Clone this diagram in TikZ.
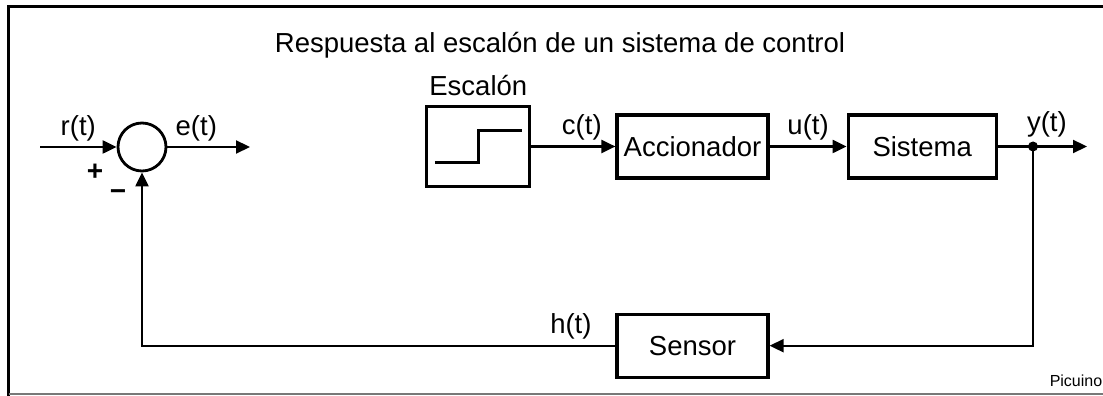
\documentclass[tikz,border=0pt]{standalone}
\usepackage{fontspec}
\setmainfont{Liberation Sans}
\usepackage{tikz}
\usetikzlibrary{arrows.meta, positioning, calc}
\definecolor{framegray}{RGB}{120,120,120}
\newcommand{\sigfont}{\fontsize{27.5}{31}\selectfont}

\begin{document}
\begin{tikzpicture}[
  x=1pt, y=1pt,
  node distance=80pt and 80pt,
  block/.style={draw, line width=3.2pt, minimum width=151pt, minimum height=63pt,
                inner sep=0pt, font=\sigfont},
  sumnode/.style={draw, circle, line width=2.8pt, minimum size=48pt, inner sep=0pt},
  arrow/.style={-{Triangle[length=14pt,width=13pt]}, line width=2.2pt},
  wire/.style={line width=2.2pt},
  sig/.style={font=\sigfont, inner sep=2pt},
]
\useasboundingbox (0,0) rectangle (1103,396);

%% Frame
\draw[line width=3.2pt] (1103,389.5) -- (8.5,389.5) -- (8.5,0);
\draw[framegray, line width=1.2pt] (8.5,2) -- (1103,2);
\node[font=\fontsize{27.5}{31}\selectfont] (title) at (560,351) {Respuesta al escal\'on de un sistema de control};

%% Blocks
\node[block] (acc) at (692.5,249.5) {Accionador};
\node[block, minimum width=148pt, right=77pt of acc] (sis) {Sistema};
\node[block, minimum width=103pt, minimum height=80pt, left=84pt of acc] (esc) {};
\node[sig, above=7pt of esc] (esclbl) {Escal\'on};
\node[block, below=133pt of acc] (sen) {Sensor};

%% Step inside Escalon
\draw[wire, line width=2.8pt] ($(esc.center)+(-43.5,-16)$) -- ++(44,0) -- ++(0,32) -- ++(43,0);

%% Comparator
\node[sumnode] (sum) at (142,249) {};
\coordinate (rin) at (40,249);
\coordinate (eout) at (250,249);
\draw[arrow] (rin) -- node[sig, above=3pt]{r(t)} (sum.west);
\draw[arrow] (sum.east) -- node[sig, above=3pt, pos=0.35]{e(t)} (eout);
\node[font=\fontsize{28}{31}\selectfont\bfseries] (plus) at ($(sum)+(-47,-25)$) {+};
\node[font=\fontsize{28}{31}\selectfont\bfseries] (minus) at ($(sum)+(-24,-48)$) {\textminus};

%% Forward path
\coordinate (yout) at (1087,249.5);
\coordinate (ydot) at (1033,249.5);
\draw[arrow] (esc.east) -- node[sig, above=3pt, pos=0.6]{c(t)} (acc.west);
\draw[arrow] (acc.east) -- node[sig, above=3pt]{u(t)} (sis.west);
\draw[arrow] (sis.east) -- node[sig, above=6pt, pos=0.55]{y(t)} (yout);
\fill (ydot) circle (5pt);

%% Feedback
\draw[arrow] (ydot) |- (sen.east);
\draw[arrow] (sen.west) -| node[sig, above=3pt, pos=0.047]{h(t)} (sum.south);

\node[font=\fontsize{16}{18}\selectfont] (credit) at (1076,15) {Picuino};
\end{tikzpicture}
\end{document}
